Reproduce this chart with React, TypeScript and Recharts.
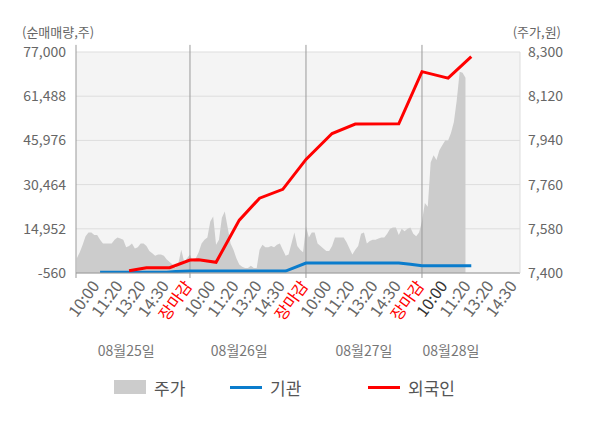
import React from 'react';
import { ComposedChart, Area, Line, XAxis, YAxis, CartesianGrid, ReferenceLine } from 'recharts';

const FONT = "'Noto Sans CJK KR', 'Noto Sans', sans-serif";

// price (주가, 원) per slot, 40 slots per trading day
const day1Price = [7460, 7485, 7515, 7550, 7565, 7565, 7555, 7555, 7535, 7520, 7520, 7520, 7520, 7535, 7545, 7540, 7535, 7505, 7510, 7520, 7500, 7505, 7520, 7520, 7510, 7490, 7480, 7470, 7475, 7475, 7470, 7455, 7445, 7435, 7420, 7440, 7495, 7445, 7460];
const day2Price = [7475, 7445, 7460, 7485, 7520, 7535, 7545, 7610, 7630, 7515, 7535, 7625, 7650, 7585, 7520, 7495, 7460, 7435, 7425, 7420, 7420, 7430, 7420, 7420, 7495, 7515, 7505, 7505, 7510, 7505, 7515, 7520, 7495, 7470, 7475, 7520, 7565, 7510, 7495, 7485];
const day3Price = [7590, 7545, 7565, 7565, 7520, 7510, 7500, 7490, 7490, 7510, 7545, 7545, 7545, 7545, 7525, 7500, 7475, 7495, 7510, 7560, 7565, 7520, 7530, 7535, 7535, 7540, 7545, 7545, 7560, 7580, 7585, 7585, 7555, 7580, 7570, 7580, 7585, 7560, 7550, 7565];
const day4Price = [7610, 7685, 7670, 7850, 7880, 7860, 7900, 7920, 7940, 7940, 7970, 8015, 8105, 8220, 8215, 8195];

// 외국인 net buying (주) at slot
const frgnIdx = [19, 23, 25, 33, 40, 43, 49, 57, 64, 72, 80, 89, 97, 112, 120, 129, 137];
const frgnVals = [250, 950, 1300, 1300, 4000, 4100, 3200, 18000, 25700, 28800, 39300, 48400, 51700, 51800, 70100, 67800, 75400];

// 기관 net buying (주) at slot
const instIdx = [9, 32, 35, 40, 73, 80, 112, 116, 120, 137];
const instVals = [-300, -300, -50, 100, 100, 2950, 2950, 2500, 2000, 2000];

const xTicks = [8, 16, 24, 32, 40, 48, 56, 64, 72, 80, 88, 96, 104, 112, 120, 128, 136, 144, 152];
const xTickLabels = ['10:00', '11:20', '13:20', '14:30', '장마감', '10:00', '11:20', '13:20', '14:30', '장마감', '10:00', '11:20', '13:20', '14:30', '장마감', '10:00', '11:20', '13:20', '14:30'];
const dayBreaks = [40, 80, 120];

const dateLabels = ['08월25일', '08월26일', '08월27일', '08월28일'];
const dateLabelIdx = [18, 57, 100, 130];

const leftTicks = [-560, 14952, 30464, 45976, 61488, 77000];
const rightTicks = [7400, 7580, 7760, 7940, 8120, 8300];

const prices = [...day1Price, ...day2Price, ...day3Price, ...day4Price];

const data: any[] = [];
for (let i = 1; i <= 137; i++) {
  data.push({ idx: i, price: i - 1 < prices.length ? prices[i - 1] : null, frgn: null, inst: null });
}
frgnIdx.forEach((ix, k) => { data[ix - 1].frgn = frgnVals[k]; });
instIdx.forEach((ix, k) => { data[ix - 1].inst = instVals[k]; });

const fmt = (n: number) => String(n).replace(/\B(?=(\d{3})+(?!\d))/g, ',');

const XTick = (props: any) => {
  const { x, y, payload } = props;
  const i = xTicks.indexOf(payload.value);
  const label = xTickLabels[i];
  const isClose = label === '장마감';
  const color = isClose ? '#ff0000' : i === 15 ? '#333' : '#666';
  const tx = x + 3;
  const ty = y + 5;
  return (
    <text x={tx} y={ty} transform={`rotate(-54, ${tx}, ${ty})`} textAnchor="end" fill={color} fontSize={16} fontFamily={FONT}>
      {label}
    </text>
  );
};

const DateLabel = (props: any) => {
  const { viewBox, text } = props;
  if (!viewBox) return null;
  return (
    <text x={viewBox.x} y={viewBox.y + viewBox.height + 83} textAnchor="middle" fill="#777" fontSize={14} fontFamily={FONT}>
      {text}
    </text>
  );
};

const legendItems = [
  { name: '주가', kind: 'box', color: '#cccccc', left: 114 },
  { name: '기관', kind: 'line', color: '#0a7ccc', left: 230 },
  { name: '외국인', kind: 'line', color: '#ff0000', left: 368 },
];

export default function App() {
  return (
    <div style={{ position: 'absolute', left: 0, top: 0, width: 600, height: 428, background: '#fff', fontFamily: FONT }}>
      <ComposedChart width={600} height={428} data={data} margin={{ top: 52, right: 10, bottom: 65, left: 6 }}>
        <CartesianGrid yAxisId="left" vertical={false} stroke="#dddddd" fill="#f4f4f4" />
        <XAxis dataKey="idx" type="number" domain={[0.7, 153.8]} allowDataOverflow ticks={xTicks} interval={0}
          tick={<XTick />} tickLine={false} axisLine={{ stroke: '#999' }} height={90} />
        <YAxis yAxisId="left" domain={[-560, 77000]} ticks={leftTicks} interval={0} allowDataOverflow width={70}
          axisLine={false} tickLine={false} tickMargin={4} tickFormatter={fmt}
          tick={{ fill: '#666', fontSize: 14, fontFamily: FONT }} />
        <YAxis yAxisId="right" orientation="right" domain={[7400, 8300]} ticks={rightTicks} interval={0} allowDataOverflow width={70}
          axisLine={{ stroke: '#dddddd' }} tickLine={false} tickFormatter={fmt}
          tick={{ fill: '#666', fontSize: 14, fontFamily: FONT, textAnchor: 'start' }} />
        <Area yAxisId="right" dataKey="price" type="linear" fill="#cccccc" fillOpacity={1} stroke="none" isAnimationActive={false} connectNulls={false} />
        <ReferenceLine yAxisId="left" segment={[{ x: 0.7, y: -2300 }, { x: 0.7, y: 79500 }]} ifOverflow="visible" stroke="#999" />
        {dayBreaks.map((d) => (
          <ReferenceLine key={d} yAxisId="left" segment={[{ x: d, y: -2300 }, { x: d, y: 79500 }]} ifOverflow="visible" stroke="#999" />
        ))}
        {dateLabelIdx.map((d, k) => (
          <ReferenceLine key={'date' + k} yAxisId="left" x={d} stroke="none" ifOverflow="visible"
            label={<DateLabel text={dateLabels[k]} />} />
        ))}
        <Line yAxisId="left" dataKey="inst" type="linear" stroke="#0a7ccc" strokeWidth={3} dot={false} connectNulls isAnimationActive={false} />
        <Line yAxisId="left" dataKey="frgn" type="linear" stroke="#ff0000" strokeWidth={3} dot={false} connectNulls isAnimationActive={false} />
      </ComposedChart>
      <div style={{ position: 'absolute', left: 22, top: 25, fontSize: 13, lineHeight: 1, color: '#666' }}>(순매매량,주)</div>
      <div style={{ position: 'absolute', right: 39, top: 25, fontSize: 13, lineHeight: 1, color: '#666' }}>(주가,원)</div>
      {legendItems.map((it) => (
        <div key={it.name} style={{ position: 'absolute', left: it.left, top: 374, height: 26, display: 'flex', alignItems: 'center' }}>
          {it.kind === 'box'
            ? <div style={{ width: 32, height: 14, background: it.color }} />
            : <div style={{ width: 32, height: 3, background: it.color }} />}
          <span style={{ marginLeft: 8, fontSize: 17, color: '#555' }}>{it.name}</span>
        </div>
      ))}
    </div>
  );
}
